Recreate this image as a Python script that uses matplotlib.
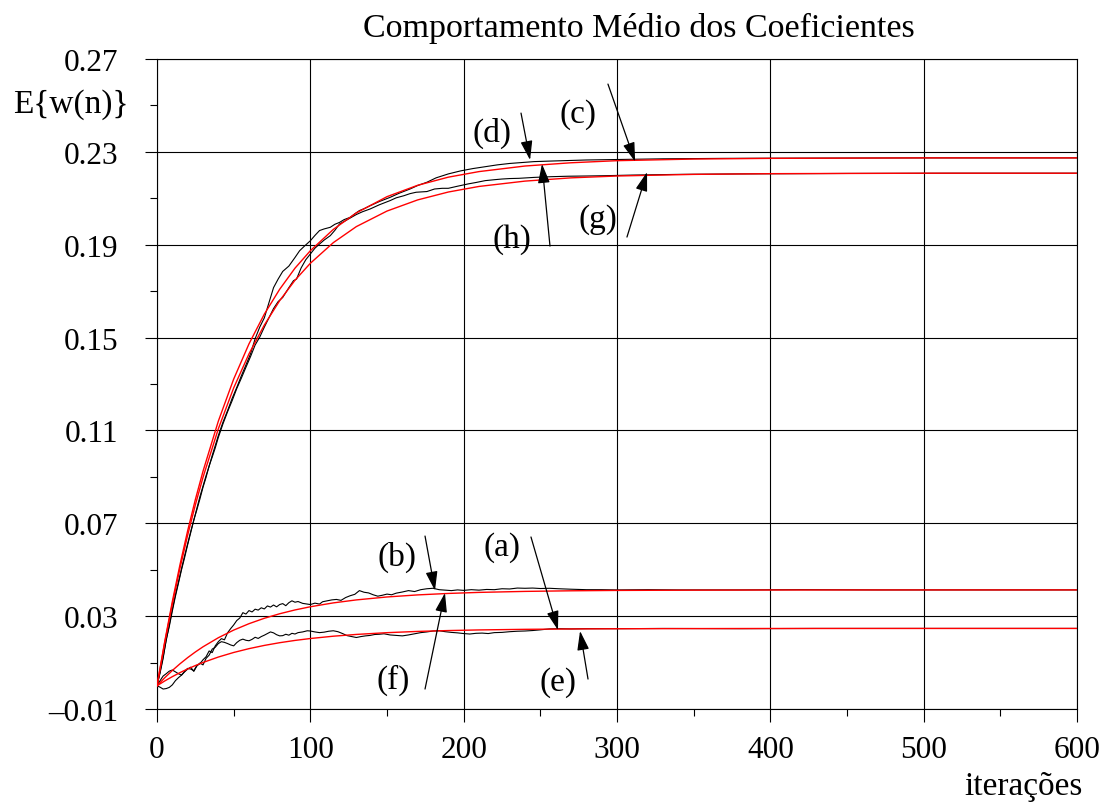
import matplotlib
matplotlib.use("Agg")
import matplotlib.pyplot as plt
from matplotlib.ticker import MultipleLocator, FixedLocator, FixedFormatter

# ---- theoretical mean coefficient curves (red) ----
x_theory = [0, 5, 10, 15, 20, 25, 30, 40, 50, 60, 70, 80, 90, 100, 115, 130,
            150, 170, 190, 210, 240, 270, 300, 350, 400, 450, 500, 600]
theory_c = [0, 0.0189, 0.0363, 0.0522, 0.0668, 0.0802, 0.0924, 0.1140, 0.1321,
            0.1473, 0.1601, 0.1708, 0.1799, 0.1874, 0.1966, 0.2037, 0.2107,
            0.2156, 0.2191, 0.2215, 0.2239, 0.2253, 0.2262, 0.2269, 0.2272,
            0.2273, 0.2274, 0.2274]
theory_g = [0, 0.0184, 0.0352, 0.0507, 0.0649, 0.0779, 0.0898, 0.1107, 0.1283,
            0.1430, 0.1554, 0.1659, 0.1747, 0.1820, 0.1909, 0.1978, 0.2045,
            0.2093, 0.2127, 0.2151, 0.2174, 0.2188, 0.2196, 0.2203, 0.2206,
            0.2207, 0.2208, 0.2208]
theory_f = [0, 0.00344, 0.00659, 0.00948, 0.01213, 0.01456, 0.01679, 0.02070,
            0.02399, 0.02675, 0.02908, 0.03103, 0.03267, 0.03404, 0.03571,
            0.03699, 0.03826, 0.03915, 0.03978, 0.04023, 0.04066, 0.04092,
            0.04108, 0.04120, 0.04126, 0.04128, 0.04129, 0.0413]
theory_e = [0, 0.00206, 0.00394, 0.00567, 0.00726, 0.00871, 0.01004, 0.01238,
            0.01435, 0.01600, 0.01739, 0.01856, 0.01954, 0.02036, 0.02136,
            0.02212, 0.02288, 0.02342, 0.02379, 0.02406, 0.02432, 0.02448,
            0.02457, 0.02464, 0.02468, 0.02469, 0.0247, 0.0247]

# ---- simulated mean coefficient curves (black) ----
x_sim_d = [0, 2, 4, 6, 8, 10, 12, 14, 16, 18, 20, 22, 24, 26, 28, 30, 32, 34,
           36, 38, 40, 43, 46, 49, 52, 55, 58, 61, 64, 67, 70, 73, 76, 79, 82,
           86, 90, 93, 96, 100, 103, 106, 109, 113, 116, 119, 122, 126, 129,
           132, 135, 139, 145, 152, 158, 165, 170, 176, 182, 190, 198, 206,
           214, 222, 230, 238, 246, 255, 265, 280, 300, 330, 370, 420, 500, 600]
sim_d = [0, 0.0060, 0.0125, 0.0195, 0.0262, 0.0330, 0.0392, 0.0448, 0.0505,
         0.0560, 0.0612, 0.0665, 0.0712, 0.0765, 0.0815, 0.0860, 0.0905,
         0.0945, 0.0992, 0.1035, 0.1078, 0.1135, 0.1185, 0.1238, 0.1285,
         0.1335, 0.1382, 0.1430, 0.1495, 0.1545, 0.1585, 0.1650, 0.1715,
         0.1752, 0.1785, 0.1808, 0.1845, 0.1874, 0.1893, 0.1917, 0.1940,
         0.1961, 0.1968, 0.1975, 0.1988, 0.1996, 0.2008, 0.2018, 0.2033,
         0.2047, 0.2055, 0.2068, 0.2086, 0.2104, 0.2122, 0.2140, 0.2155,
         0.2169, 0.2188, 0.2205, 0.2218, 0.2228, 0.2236, 0.2244, 0.2250,
         0.2254, 0.2258, 0.2260, 0.2262, 0.2265, 0.2267, 0.2270, 0.2272,
         0.2273, 0.2274, 0.2274]

x_sim_h = [0, 2, 4, 6, 8, 10, 12, 14, 16, 18, 20, 22, 24, 26, 28, 30, 32, 34,
           36, 38, 40, 43, 46, 49, 52, 55, 58, 61, 64, 67, 70, 73, 76, 79, 82,
           86, 89, 91, 94, 97, 100, 103, 106, 109, 113, 116, 119, 122, 126,
           130, 134, 139, 145, 152, 156, 161, 165, 169, 176, 181, 186, 190,
           196, 203, 208, 214, 220, 225, 230, 236, 246, 257, 268, 280, 290,
           310, 340, 380, 450, 520, 600]
sim_h = [0, 0.0055, 0.0118, 0.0200, 0.0255, 0.0322, 0.0385, 0.0442, 0.0500,
         0.0552, 0.0608, 0.0660, 0.0715, 0.0758, 0.0805, 0.0855, 0.0898,
         0.0948, 0.0985, 0.1025, 0.1070, 0.1128, 0.1180, 0.1228, 0.1280,
         0.1325, 0.1372, 0.1418, 0.1468, 0.1502, 0.1545, 0.1585, 0.1625,
         0.1655, 0.1673, 0.1715, 0.1745, 0.1752, 0.1800, 0.1835, 0.1860,
         0.1885, 0.1903, 0.1920, 0.1939, 0.1962, 0.1989, 0.2000, 0.2015,
         0.2030, 0.2042, 0.2054, 0.2072, 0.2090, 0.2102, 0.2111, 0.2120,
         0.2126, 0.2129, 0.2140, 0.2143, 0.2143, 0.2152, 0.2162, 0.2168,
         0.2176, 0.2180, 0.2183, 0.2185, 0.2186, 0.2190, 0.2193, 0.2195,
         0.2196, 0.2197, 0.2200, 0.2203, 0.2205, 0.2207, 0.2208, 0.2208]

x_sim_b = [0, 2, 4, 6, 8, 10, 12, 14, 16, 18, 20, 22, 24, 26, 28, 30, 32, 34,
           36, 38, 40, 42, 44, 46, 48, 50, 52, 54, 56, 58, 60, 62, 64, 66, 68,
           70, 72, 74, 76, 78, 80, 82, 84, 86, 88, 90, 92, 95, 98, 100, 103,
           106, 108, 111, 114, 117, 120, 123, 126, 129, 132, 135, 138, 141,
           144, 147, 150, 153, 156, 160, 164, 168, 172, 176, 180, 184, 188,
           192, 196, 200, 205, 210, 215, 220, 225, 230, 235, 240, 245, 250,
           256, 262, 270, 280, 290, 300, 320, 340, 380, 420, 470, 530, 600]
sim_b = [0, -0.0006, -0.0014, -0.0012, -0.0007, 0.0004, 0.0022, 0.0035,
         0.0046, 0.0062, 0.0075, 0.0072, 0.0065, 0.0088, 0.0095, 0.0112,
         0.0125, 0.0150, 0.0143, 0.0172, 0.0190, 0.0203, 0.0198, 0.0228,
         0.0246, 0.0262, 0.0281, 0.0292, 0.0315, 0.0309, 0.0324, 0.0318,
         0.0330, 0.0326, 0.0336, 0.0331, 0.0344, 0.0339, 0.0348, 0.0340,
         0.0350, 0.0354, 0.0345, 0.0358, 0.0366, 0.0360, 0.0363, 0.0355,
         0.0352, 0.0350, 0.0356, 0.0352, 0.0362, 0.0366, 0.0370, 0.0372,
         0.0368, 0.0380, 0.0388, 0.0394, 0.0410, 0.0403, 0.0400, 0.0392,
         0.0386, 0.0390, 0.0395, 0.0392, 0.0399, 0.0404, 0.0410, 0.0406,
         0.0414, 0.0418, 0.0420, 0.0414, 0.0412, 0.0410, 0.0413, 0.0411,
         0.0414, 0.0412, 0.0415, 0.0414, 0.0418, 0.0417, 0.0421, 0.0420,
         0.0421, 0.0419, 0.0420, 0.0418, 0.0416, 0.0414, 0.0414, 0.0413,
         0.0414, 0.0413, 0.0413, 0.0414, 0.0413, 0.0413, 0.0413]

x_sim_a = [0, 2, 4, 6, 8, 10, 12, 14, 16, 18, 20, 22, 24, 26, 28, 30, 32, 34,
           36, 38, 40, 42, 44, 46, 48, 50, 52, 54, 56, 58, 60, 62, 64, 66, 68,
           70, 72, 74, 76, 78, 80, 82, 84, 86, 88, 90, 92, 95, 98, 100, 103,
           106, 109, 112, 115, 118, 121, 124, 127, 130, 133, 136, 139, 142,
           145, 148, 152, 156, 160, 164, 168, 172, 176, 180, 184, 188, 192,
           196, 200, 204, 208, 212, 216, 220, 225, 230, 235, 240, 245, 250,
           256, 262, 270, 280, 300, 330, 380, 430, 500, 600]
sim_a = [0, 0.0022, 0.0042, 0.0052, 0.0063, 0.0068, 0.0060, 0.0052, 0.0046,
         0.0060, 0.0072, 0.0080, 0.0062, 0.0085, 0.0098, 0.0090, 0.0118,
         0.0132, 0.0158, 0.0166, 0.0182, 0.0190, 0.0187, 0.0182, 0.0176,
         0.0172, 0.0186, 0.0196, 0.0201, 0.0196, 0.0194, 0.0200, 0.0209,
         0.0204, 0.0212, 0.0218, 0.0225, 0.0232, 0.0228, 0.0220, 0.0215,
         0.0216, 0.0222, 0.0218, 0.0226, 0.0223, 0.0229, 0.0232, 0.0237,
         0.0236, 0.0232, 0.0229, 0.0231, 0.0235, 0.0237, 0.0233, 0.0225,
         0.0216, 0.0212, 0.0208, 0.0212, 0.0215, 0.0217, 0.0221, 0.0222,
         0.0224, 0.0219, 0.0217, 0.0215, 0.0219, 0.0224, 0.0229, 0.0232,
         0.0236, 0.0237, 0.0233, 0.0230, 0.0228, 0.0225, 0.0223, 0.0226,
         0.0227, 0.0225, 0.0229, 0.0230, 0.0233, 0.0235, 0.0236, 0.0238,
         0.0241, 0.0245, 0.0246, 0.0245, 0.0246, 0.0246, 0.0247, 0.0246,
         0.0247, 0.0247, 0.0247]

# ---- axis ticks ----
x_ticks = [0, 100, 200, 300, 400, 500, 600]
x_tick_labels = ["0", "100", "200", "300", "400", "500", "600"]
y_ticks = [-0.01, 0.03, 0.07, 0.11, 0.15, 0.19, 0.23, 0.27]
y_tick_labels = ["\u20130.01", "0.03", "0.07", "0.11", "0.15", "0.19", "0.23", "0.27"]

# ---- curve annotations: label, label position, arrow tail, arrow head ----
curve_labels = ["(a)", "(b)", "(c)", "(d)", "(e)", "(f)", "(g)", "(h)"]
label_pos = [(225.0, 0.0598), (156.5, 0.0559), (274.6, 0.2463), (218.5, 0.2386),
             (261.5, 0.0016), (153.9, 0.0029), (287.6, 0.2011), (231.5, 0.1925)]
arrow_tail = [(243.9, 0.0641), (174.8, 0.0645), (294.1, 0.2592), (237.4, 0.2467),
              (281.1, 0.0029), (174.8, -0.0014), (306.5, 0.1933), (256.3, 0.1894)]
arrow_head = [(261.5, 0.0240), (181.3, 0.0410), (311.8, 0.2258), (243.3, 0.2265),
              (275.9, 0.0236), (187.8, 0.0400), (319.6, 0.2213), (251.1, 0.2248)]

SERIF = ["Liberation Serif", "DejaVu Serif"]
plt.rcParams["font.family"] = SERIF

fig = plt.figure(figsize=(11.04, 8.03), dpi=100)
ax = fig.add_axes([157 / 1104, 1 - 710 / 803, 920 / 1104, 650 / 803])

ax.set_xlim(0, 600)
ax.set_ylim(-0.01, 0.27)

for xs, ys in [(x_sim_d, sim_d), (x_sim_h, sim_h), (x_sim_b, sim_b), (x_sim_a, sim_a)]:
    ax.plot(xs, ys, color="black", lw=0.8, zorder=3)
for ys in [theory_c, theory_g, theory_f, theory_e]:
    ax.plot(x_theory, ys, color="#ff0000", lw=1.0, zorder=4)

ax.xaxis.set_major_locator(FixedLocator(x_ticks))
ax.xaxis.set_major_formatter(FixedFormatter(x_tick_labels))
ax.xaxis.set_minor_locator(MultipleLocator(50))
ax.yaxis.set_major_locator(FixedLocator(y_ticks))
ax.yaxis.set_major_formatter(FixedFormatter(y_tick_labels))
ax.yaxis.set_minor_locator(FixedLocator([0.01, 0.05, 0.09, 0.13, 0.17, 0.21, 0.25]))

ax.grid(True, which="major", color="black", lw=0.8, zorder=1)
ax.set_axisbelow(True)
for sp in ax.spines.values():
    sp.set_linewidth(0.8)

ax.tick_params(axis="both", which="major", direction="out", length=9, width=0.8,
               labelsize=22.5, colors="black")
ax.tick_params(axis="both", which="minor", direction="out", length=5, width=0.8)
ax.tick_params(axis="x", which="major", pad=10)
ax.tick_params(axis="y", which="major", pad=19)

for lab, lp, tail, head in zip(curve_labels, label_pos, arrow_tail, arrow_head):
    ax.text(lp[0], lp[1], lab, fontsize=24, ha="center", va="center", zorder=6)
    ax.annotate("", xy=head, xytext=tail,
                arrowprops=dict(arrowstyle="-|>,head_length=0.9,head_width=0.28",
                                mutation_scale=13, lw=0.9, color="black",
                                shrinkA=0, shrinkB=0),
                zorder=6)

fig.text(639 / 1104, 1 - 28 / 803, "Comportamento Médio dos Coeficientes",
         fontsize=24.5, ha="center", va="center")
fig.text(129 / 1104, 1 - 105 / 803, "E{w(n)}", fontsize=24, ha="right", va="center")
fig.text(1083 / 1104, 1 - 787 / 803, "iterações", fontsize=24, ha="right", va="center")

fig.savefig("out.png", dpi=100, facecolor="white")
